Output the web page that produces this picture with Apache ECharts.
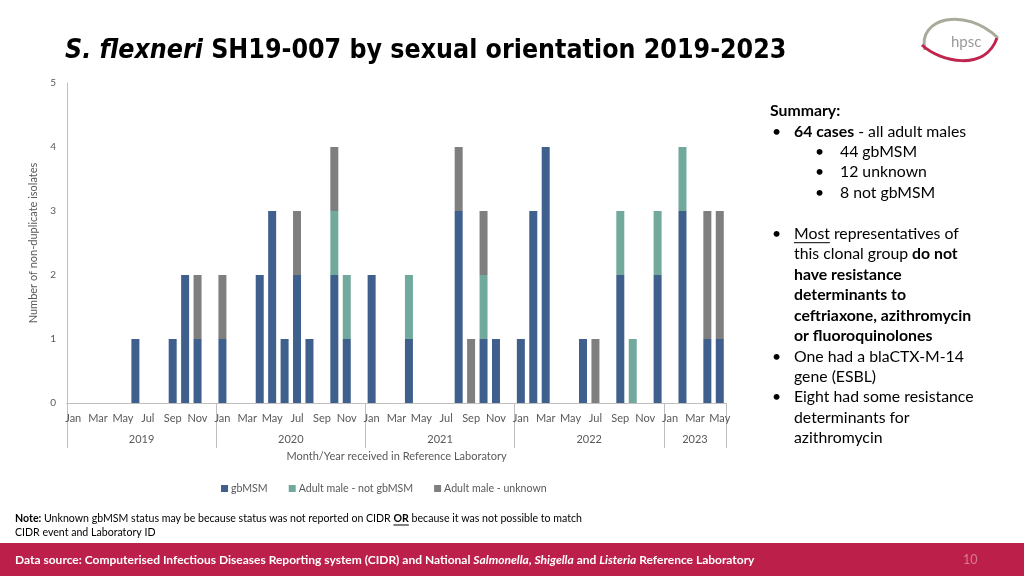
<!DOCTYPE html>
<html><head><meta charset="utf-8">
<script src="https://cdn.jsdelivr.net/npm/echarts@6/dist/echarts.min.js"></script>
<style>html,body{margin:0;padding:0;background:#fff}#c{width:1024px;height:576px}</style>
</head><body><div id="c"></div>
<script>
// ---- data ----
const years = [2019, 2020, 2021, 2022, 2023];
const monthsPerYear = [12, 12, 12, 12, 5];
const monthNames = ['Jan','Feb','Mar','Apr','May','Jun','Jul','Aug','Sep','Oct','Nov','Dec'];
const seriesNames = ['gbMSM', 'Adult male - not gbMSM', 'Adult male - unknown'];
// Jan 2019 .. May 2023
const gbMSM = [
  0,0,0,0,0,1,0,0,1,2,1,0,
  1,0,0,2,3,1,2,1,0,2,1,0,
  2,0,0,1,0,0,0,3,0,1,1,0,
  1,3,4,0,0,1,0,0,2,0,0,2,
  0,3,0,1,1
];
const notGbMSM = [
  0,0,0,0,0,0,0,0,0,0,0,0,
  0,0,0,0,0,0,0,0,0,1,1,0,
  0,0,0,1,0,0,0,0,0,1,0,0,
  0,0,0,0,0,0,0,0,1,1,0,1,
  0,1,0,0,0
];
const unknown = [
  0,0,0,0,0,0,0,0,0,0,1,0,
  1,0,0,0,0,0,1,0,0,1,0,0,
  0,0,0,0,0,0,0,1,1,1,0,0,
  0,0,0,0,0,0,1,0,0,0,0,0,
  0,0,0,2,2
];
const yTicks = [0, 1, 2, 3, 4, 5];

// ---- derived ----
const categories = [];
years.forEach((y, i) => { for (let m = 0; m < monthsPerYear[i]; m++) categories.push(y + '-' + monthNames[m]); });
const total = categories.length;
const yearBounds = [0];
monthsPerYear.forEach(n => yearBounds.push(yearBounds[yearBounds.length - 1] + n));
const yearCenters = years.map((y, i) => (yearBounds[i] + yearBounds[i + 1]) / 2);

const colors = ['#3F5F8C', '#71AA9D', '#7F7F7F'];
const axisGrey = '#BFBFBF';
const txtGrey = '#595959';
const font = 'Lato, "Liberation Sans", sans-serif';

// text measurement for underlines
const mctx = document.createElement('canvas').getContext('2d');
function tw(txt, size, weight) { mctx.font = (weight || 'normal') + ' ' + size + 'px Lato'; return mctx.measureText(txt).width; }

// summary lines: [bullet level (0 none/1 main/2 sub/3 continuation), rich text]
const S = 15.8, LH = 20.45, Y0 = 111;
const summary = [
  [0, '{b|Summary:}'],
  [1, '{b|64 cases}{n| - all adult males}'],
  [2, '{n|44 gbMSM}'],
  [2, '{n|12 unknown}'],
  [2, '{n|8 not gbMSM}'],
  [-1, ''],
  [1, '{n|Most representatives of}'],
  [3, '{n|this clonal group }{b|do not}'],
  [3, '{b|have resistance}'],
  [3, '{b|determinants to}'],
  [3, '{b|ceftriaxone, azithromycin}'],
  [3, '{b|or fluoroquinolones}'],
  [1, '{n|One had a blaCTX-M-14}'],
  [3, '{n|gene (ESBL)}'],
  [1, '{n|Eight had some resistance}'],
  [3, '{n|determinants for}'],
  [3, '{n|azithromycin}']
];
const rich = {
  n: { fill: '#000', fontSize: S, fontFamily: font },
  b: { fill: '#000', fontSize: S, fontWeight: 'bold', fontFamily: font }
};
const summaryGraphics = [];
summary.forEach((l, i) => {
  const y = Y0 + i * LH;
  const lvl = l[0];
  if (lvl < 0) return;
  let tx = 770;
  if (lvl === 1) { summaryGraphics.push({ type: 'text', x: 772, y, style: { text: '•', fill: '#000', fontSize: S, fontFamily: font, verticalAlign: 'middle' } }); tx = 794; }
  if (lvl === 2) { summaryGraphics.push({ type: 'text', x: 815, y, style: { text: '•', fill: '#000', fontSize: S, fontFamily: font, verticalAlign: 'middle' } }); tx = 840; }
  if (lvl === 3) tx = 794;
  summaryGraphics.push({ type: 'text', x: tx, y, style: { text: l[1], rich, verticalAlign: 'middle' } });
});
summaryGraphics.push({ type: 'line', shape: { x1: 794, y1: Y0 + 6 * LH + 9, x2: 794 + tw('Most', S), y2: Y0 + 6 * LH + 9 }, style: { stroke: '#000', lineWidth: 1 } });

const NS = 10.6;
const notePrefix = 'Unknown gbMSM status may be because status was not reported on CIDR ';
const orX = 15 + tw('Note:', NS, 'bold') + tw(' ' + notePrefix, NS);

const chart = echarts.init(document.getElementById('c'));
chart.setOption({
  animation: false,
  backgroundColor: '#ffffff',
  textStyle: { fontFamily: font },
  grid: { left: 67, right: 298, top: 83, bottom: 173, containLabel: false },
  title: [{
    text: '{i|S. flexneri}{b| SH19-007 by sexual orientation 2019-2023}',
    left: 60, top: 33,
    textStyle: {
      rich: {
        i: { fontFamily: '"DejaVu Sans Condensed", "DejaVu Sans", sans-serif', fontWeight: 'bold', fontStyle: 'italic', fontSize: 26.5, color: '#000' },
        b: { fontFamily: '"DejaVu Sans Condensed", "DejaVu Sans", sans-serif', fontWeight: 'bold', fontSize: 26.5, color: '#000' }
      }
    }
  }],
  legend: {
    left: 221, top: 483, padding: 0,
    itemWidth: 7, itemHeight: 7, itemGap: 21,
    icon: 'rect',
    textStyle: { color: txtGrey, fontSize: 10.6, fontFamily: font, padding: [0, 0, 0, -2] },
    data: seriesNames
  },
  xAxis: [{
    type: 'category',
    data: categories,
    boundaryGap: true,
    axisLine: { show: true, lineStyle: { color: axisGrey } },
    axisTick: { show: false },
    axisLabel: {
      interval: 1, margin: 10, color: txtGrey, fontSize: 11, fontFamily: font,
      formatter: v => v.split('-')[1]
    },
    name: 'Month/Year received in Reference Laboratory',
    nameLocation: 'middle', nameGap: 48,
    nameTextStyle: { color: txtGrey, fontSize: 11, fontFamily: font }
  }, {
    type: 'value',
    min: 0, max: total,
    position: 'bottom',
    axisLine: { show: true, lineStyle: { color: axisGrey } },
    axisTick: { show: true, customValues: yearBounds, length: 45, lineStyle: { color: axisGrey } },
    axisLabel: {
      customValues: yearCenters, margin: 31, color: txtGrey, fontSize: 11, fontFamily: font,
      formatter: v => { const i = yearCenters.indexOf(v); return i >= 0 ? String(years[i]) : ''; }
    },
    splitLine: { show: false }
  }],
  yAxis: {
    type: 'value',
    min: yTicks[0], max: yTicks[yTicks.length - 1], interval: 1,
    axisLine: { show: true, lineStyle: { color: axisGrey } },
    axisTick: { show: false },
    splitLine: { show: false },
    axisLabel: { color: txtGrey, fontSize: 10, margin: 11, fontFamily: font },
    name: 'Number of non-duplicate isolates',
    nameLocation: 'middle', nameGap: 26, nameRotate: 90,
    nameTextStyle: { color: txtGrey, fontSize: 11, fontFamily: font }
  },
  series: [gbMSM, notGbMSM, unknown].map((d, i) => ({
    name: seriesNames[i],
    type: 'bar',
    stack: 'all',
    xAxisIndex: 0,
    data: d,
    barWidth: 8,
    itemStyle: { color: colors[i] }
  })),
  graphic: [
    // footer band
    { type: 'rect', left: 0, bottom: 0, shape: { width: 1024, height: 33 }, style: { fill: '#BC1F4A' }, z: 0 },
    { type: 'text', x: 15, y: 560, style: {
        verticalAlign: 'middle',
        text: '{n|Data source: Computerised Infectious Diseases Reporting system (CIDR) and National }{it|Salmonella}{n|, }{it|Shigella}{n| and }{it|Listeria}{n| Reference Laboratory}',
        rich: {
          n: { fill: '#fff', fontSize: 12, fontWeight: 'bold', fontFamily: font },
          it: { fill: '#fff', fontSize: 12, fontWeight: 'bold', fontStyle: 'italic', fontFamily: font }
        } } },
    { type: 'text', x: 963, y: 560, style: { text: '10', fill: '#D97A93', fontSize: 12.5, fontFamily: font, verticalAlign: 'middle' } },
    // note
    { type: 'text', x: 15, y: 519, style: {
        verticalAlign: 'middle',
        text: '{b|Note:}{n| ' + notePrefix + '}{b|OR}{n| because it was not possible to match}',
        rich: {
          n: { fill: '#000', fontSize: NS, fontFamily: font },
          b: { fill: '#000', fontSize: NS, fontWeight: 'bold', fontFamily: font }
        } } },
    { type: 'text', x: 15, y: 533, style: { verticalAlign: 'middle', text: 'CIDR event and Laboratory ID', fill: '#000', fontSize: NS, fontFamily: font } },
    { type: 'line', shape: { x1: orX, y1: 525, x2: orX + tw('OR', NS, 'bold'), y2: 525 }, style: { stroke: '#000', lineWidth: 1 } },
    ...summaryGraphics,
    // hpsc logo
    { type: 'bezierCurve', shape: { x1: 925, y1: 50, cpx1: 917, cpy1: 18, cpx2: 965, cpy2: 6, x2: 998, y2: 38 },
      style: { stroke: '#A9AB9A', lineWidth: 3, fill: null } },
    { type: 'bezierCurve', shape: { x1: 922, y1: 45, cpx1: 940, cpy1: 62, cpx2: 985, cpy2: 72, x2: 997, y2: 38 },
      style: { stroke: '#C0254F', lineWidth: 3, fill: null } },
    { type: 'text', x: 951, y: 42, style: { text: 'hpsc', fill: '#9A9A9A', fontSize: 15, fontFamily: font, verticalAlign: 'middle' } }
  ]
});
</script></body></html>
